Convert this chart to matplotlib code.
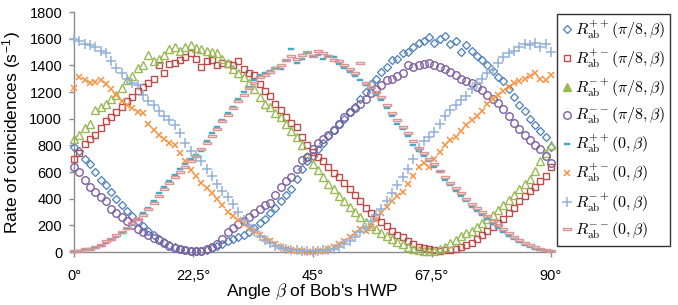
import matplotlib
matplotlib.use("Agg")
import matplotlib.pyplot as plt
import numpy as np
from matplotlib.path import Path
from matplotlib.lines import Line2D

plt.rcParams['font.family'] = ['Liberation Sans', 'DejaVu Sans']
plt.rcParams['mathtext.fontset'] = 'cm'

# Angle beta of Bob's HWP (degrees)
beta = list(range(0, 91))

# R_ab^{++}(pi/8, beta)
r_pp_pi8 = [790, 760, 700, 660, 600, 540, 500, 450, 400, 350,
            310, 270, 230, 195, 160, 130, 100, 78, 55, 36,
            22, 12, 6, 4, 9, 16, 30, 45, 60, 80,
            95, 112, 130, 150, 180, 215, 250, 290, 330, 380,
            430, 470, 550, 620, 680, 720, 770, 820, 870, 915,
            960, 1000, 1050, 1090, 1150, 1200, 1260, 1300, 1350, 1390,
            1440, 1450, 1490, 1500, 1540, 1565, 1580, 1610, 1570, 1600,
            1620, 1560, 1580, 1500, 1550, 1510, 1470, 1440, 1400, 1360,
            1310, 1280, 1220, 1160, 1100, 1060, 1000, 950, 910, 860, 790]
# R_ab^{+-}(pi/8, beta)
r_pm_pi8 = [700, 740, 810, 850, 880, 930, 980, 1010, 1050, 1090,
            1130, 1165, 1210, 1240, 1270, 1300, 1400, 1340, 1410, 1420,
            1440, 1460, 1490, 1450, 1390, 1430, 1440, 1400, 1420, 1410,
            1400, 1430, 1370, 1340, 1330, 1260, 1210, 1170, 1110, 1065,
            1010, 970, 940, 860, 800, 750, 712, 680, 640, 592,
            560, 520, 470, 430, 380, 330, 290, 260, 225, 195,
            160, 130, 110, 85, 60, 40, 30, 20, 15, 10,
            12, 15, 20, 35, 50, 67, 95, 130, 160, 190,
            220, 250, 290, 330, 385, 420, 455, 490, 530, 570, 640]
# R_ab^{-+}(pi/8, beta)
r_mp_pi8 = [850, 880, 930, 960, 1065, 1090, 1110, 1150, 1180, 1230,
            1290, 1320, 1380, 1400, 1480, 1430, 1450, 1480, 1520, 1540,
            1510, 1540, 1550, 1530, 1520, 1510, 1500, 1490, 1450, 1420,
            1370, 1340, 1310, 1270, 1220, 1160, 1110, 1090, 1040, 1010,
            960, 910, 860, 800, 720, 660, 615, 560, 510, 470,
            420, 380, 340, 300, 260, 225, 195, 170, 145, 120,
            95, 75, 60, 40, 25, 15, 10, 5, 10, 20,
            40, 65, 90, 120, 140, 160, 190, 220, 250, 280,
            315, 350, 390, 430, 470, 510, 550, 610, 680, 740, 800]
# R_ab^{--}(pi/8, beta)
r_mm_pi8 = [640, 600, 540, 490, 450, 410, 380, 320, 290, 260,
            230, 200, 170, 150, 130, 105, 90, 65, 45, 30,
            20, 12, 8, 5, 10, 20, 35, 60, 100, 150,
            180, 210, 235, 260, 290, 320, 350, 370, 430, 490,
            530, 560, 620, 690, 712, 770, 817, 850, 880, 915,
            960, 1015, 1050, 1080, 1110, 1150, 1190, 1220, 1250, 1290,
            1300, 1320, 1340, 1400, 1390, 1400, 1410, 1415, 1400, 1390,
            1370, 1350, 1330, 1300, 1280, 1265, 1240, 1215, 1180, 1150,
            1120, 1070, 1020, 970, 920, 880, 840, 800, 770, 720, 670]
# R_ab^{++}(0, beta)
r_pp_0 = [0, 5, 15, 20, 30, 45, 70, 90, 110, 140,
          170, 200, 240, 290, 330, 380, 440, 490, 530, 580,
          620, 660, 700, 730, 760, 830, 890, 940, 990, 1040,
          1090, 1150, 1200, 1240, 1290, 1330, 1340, 1360, 1380, 1370,
          1430, 1520, 1420, 1450, 1490, 1470, 1480, 1450, 1470, 1460,
          1410, 1380, 1350, 1320, 1290, 1250, 1220, 1180, 1140, 1080,
          1020, 960, 920, 870, 800, 760, 720, 680, 640, 600,
          540, 500, 460, 420, 380, 340, 310, 280, 250, 210,
          180, 150, 120, 95, 75, 55, 35, 20, 12, 8, 5]
# R_ab^{+-}(0, beta)
r_pm_0 = [1230, 1310, 1290, 1270, 1275, 1290, 1260, 1220, 1180, 1130,
          1100, 1080, 1050, 1040, 960, 915, 880, 850, 820, 800,
          740, 680, 615, 570, 520, 480, 440, 400, 350, 300,
          270, 240, 210, 180, 160, 130, 100, 80, 60, 40,
          25, 15, 10, 5, 3, 2, 5, 10, 20, 40,
          60, 80, 110, 140, 170, 160, 190, 240, 290, 340,
          380, 420, 450, 510, 570, 640, 670, 640, 700, 750,
          800, 840, 865, 910, 950, 990, 1020, 1060, 1110, 1150,
          1180, 1210, 1240, 1265, 1280, 1300, 1320, 1340, 1300, 1290, 1330]
# R_ab^{-+}(0, beta)
r_mp_0 = [1600, 1580, 1560, 1550, 1540, 1510, 1490, 1430, 1380, 1340,
          1300, 1270, 1250, 1180, 1130, 1100, 1060, 1020, 990, 950,
          890, 820, 760, 720, 680, 620, 570, 510, 460, 410,
          360, 300, 240, 200, 160, 120, 90, 65, 45, 30,
          20, 15, 12, 8, 5, 5, 8, 12, 18, 25,
          40, 60, 80, 110, 150, 180, 230, 280, 320, 380,
          440, 500, 560, 620, 700, 780, 830, 860, 900, 960,
          1020, 1065, 1100, 1140, 1170, 1220, 1270, 1300, 1340, 1365,
          1420, 1460, 1490, 1510, 1540, 1560, 1550, 1570, 1540, 1560, 1500]
# R_ab^{--}(0, beta)
r_mm_0 = [5, 10, 20, 25, 40, 55, 80, 100, 125, 150,
          180, 215, 250, 280, 320, 370, 420, 470, 520, 560,
          600, 640, 680, 720, 770, 820, 870, 920, 980, 1030,
          1080, 1130, 1180, 1230, 1270, 1310, 1330, 1350, 1380, 1400,
          1440, 1470, 1450, 1480, 1500, 1470, 1510, 1490, 1470, 1440,
          1430, 1400, 1370, 1340, 1420, 1270, 1240, 1200, 1160, 1100,
          1040, 990, 940, 890, 830, 780, 740, 700, 660, 610,
          560, 520, 480, 440, 400, 360, 330, 300, 270, 230,
          200, 170, 140, 110, 90, 70, 50, 35, 25, 15, 10]

labels = [r'$R_{\rm ab}^{++}(\pi/8,\beta)$', r'$R_{\rm ab}^{+-}(\pi/8,\beta)$',
          r'$R_{\rm ab}^{-+}(\pi/8,\beta)$', r'$R_{\rm ab}^{--}(\pi/8,\beta)$',
          r'$R_{\rm ab}^{++}(0,\beta)$', r'$R_{\rm ab}^{+-}(0,\beta)$',
          r'$R_{\rm ab}^{-+}(0,\beta)$', r'$R_{\rm ab}^{--}(0,\beta)$']

xtick_vals = [0, 22.5, 45, 67.5, 90]
xtick_labels = ['0°', '22,5°', '45°', '67,5°', '90°']
ytick_vals = list(range(0, 1801, 200))

rect_fill = Path([(-1, -0.38), (1, -0.38), (1, 0.38), (-1, 0.38), (-1, -0.38)],
                 [Path.MOVETO, Path.LINETO, Path.LINETO, Path.LINETO, Path.CLOSEPOLY])

c_blue = '#4a7ebb'
c_red = '#be4b48'
c_green = '#98b954'
c_purple = '#7d60a0'
c_teal = '#46aac5'
c_orange = '#f69240'
c_lblue = '#93b0d8'
c_pink = '#d99694'

styles = [
    dict(marker='D', ms=3.6, mfc='none', mec=c_blue, mew=0.9),
    dict(marker='s', ms=5.0, mfc='none', mec=c_red, mew=1.0),
    dict(marker='^', ms=5.4, mfc='none', mec=c_green, mew=1.0),
    dict(marker='o', ms=5.4, mfc='none', mec=c_purple, mew=1.0),
    dict(marker=rect_fill, ms=4.2, mfc=c_teal, mec=c_teal, mew=0.3),
    dict(marker='x', ms=5.0, mfc='none', mec=c_orange, mew=1.1),
    dict(marker='+', ms=7.0, mfc='none', mec=c_lblue, mew=1.1),
    dict(marker=rect_fill, ms=5.6, mfc='none', mec=c_pink, mew=1.0),
]
series = [r_pp_pi8, r_pm_pi8, r_mp_pi8, r_mm_pi8, r_pp_0, r_pm_0, r_mp_0, r_mm_0]

fig = plt.figure(figsize=(6.78, 3.05), dpi=100)
ax = fig.add_axes([74/678, 53/305, 477/678, 240/305])

order = [7, 4, 6, 5, 1, 2, 0, 3]
for i in order:
    ax.plot(beta, series[i], linestyle='none', clip_on=False, zorder=3 + i, **styles[i])

ax.set_xlim(0, 90)
ax.set_ylim(0, 1800)
ax.set_xticks(xtick_vals)
ax.set_xticklabels(xtick_labels)
ax.set_yticks(ytick_vals)
for s in ['top', 'right']:
    ax.spines[s].set_visible(False)
for s in ['left', 'bottom']:
    ax.spines[s].set_color('#8c8c8c')
    ax.spines[s].set_linewidth(1.0)
ax.tick_params(axis='both', direction='out', length=3.5, width=1.0, color='#8c8c8c',
               labelsize=10.5, colors='#8c8c8c', labelcolor='black')
ax.tick_params(axis='x', pad=9)
ax.tick_params(axis='y', pad=5)
ax.set_xlabel(r"Angle $\beta$ of Bob's HWP", fontsize=12.5, labelpad=-1)
ax.set_ylabel(r"Rate of coincidences (s$^{\mathregular{-1}}$)", fontsize=12.5, labelpad=4)

handles = []
for i in range(8):
    st = dict(styles[i])
    if i == 2:
        st['mfc'] = c_green
    handles.append(Line2D([], [], linestyle='none', **st))
leg = fig.legend(handles, labels, loc='upper left', bbox_to_anchor=(557/678, 1 - 14/305),
                 bbox_transform=fig.transFigure, frameon=True, fancybox=False,
                 borderaxespad=0, fontsize=11.5, handlelength=0.6, handletextpad=0.2,
                 labelspacing=0.44, borderpad=0.3)
leg.get_frame().set_edgecolor('black')
leg.get_frame().set_linewidth(1.0)

fig.savefig('out.png', dpi=100)
